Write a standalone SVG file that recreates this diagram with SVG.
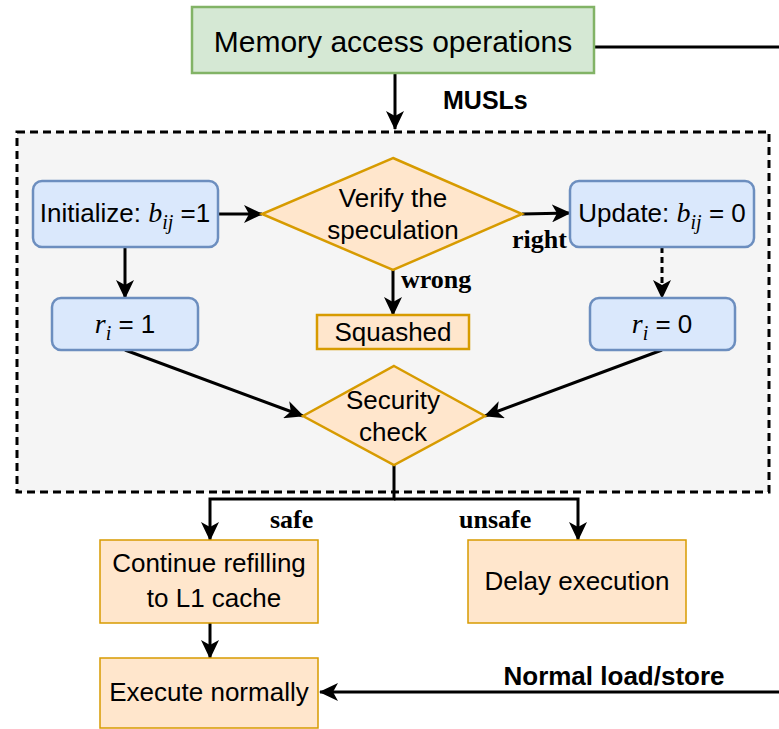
<svg xmlns="http://www.w3.org/2000/svg" width="779" height="729" viewBox="0 0 779 729">
  <style>
    .sans { font-family: "Liberation Sans", Arial, sans-serif; fill: #000; }
    .lbl { font-family: "Liberation Sans", Arial, sans-serif; font-weight: bold; fill: #000; }
    .ser { font-family: "Liberation Serif", "Times New Roman", serif; font-weight: bold; fill: #000; font-size: 26px; }
    .math { font-family: "Liberation Serif", "Times New Roman", serif; font-style: italic; }
    .blue { fill: #dae8fc; stroke: #6c8ebf; stroke-width: 2.5; }
    .orange { fill: #ffe6cc; stroke: #d79b00; stroke-width: 2.5; }
    .orange-thin { fill: #ffe6cc; stroke: #d79b00; stroke-width: 1.5; }
    .green { fill: #d5e8d4; stroke: #82b366; stroke-width: 2.5; }
    .edge { fill: none; stroke: #000; stroke-width: 3; }
  </style>
  <defs>
    <marker id="arrow" markerUnits="userSpaceOnUse" viewBox="0 0 19 18" refX="18" refY="9" markerWidth="19" markerHeight="18" orient="auto">
      <path d="M0,0 L19,9 L0,18 L5,9 Z" fill="#000"/>
    </marker>
  </defs>

  <!-- speculation region -->
  <g id="region">
    <rect x="17" y="132" width="752" height="360" fill="#f5f5f5" stroke="#000" stroke-width="3" stroke-dasharray="8 5"/>
  </g>

  <!-- connectors -->
  <g id="connectors">
    <path class="edge" d="M594,47 H790 V692 H320" marker-end="url(#arrow)"/>
    <path class="edge" d="M395,73 V129" marker-end="url(#arrow)"/>
    <path class="edge" d="M218,214 H262" marker-end="url(#arrow)"/>
    <path class="edge" d="M522,214 L570,213" marker-end="url(#arrow)"/>
    <path class="edge" d="M393,270 V315" marker-end="url(#arrow)"/>
    <path class="edge" d="M125,247 V298" marker-end="url(#arrow)"/>
    <path class="edge" d="M662,247 V298" stroke-dasharray="6 4" marker-end="url(#arrow)"/>
    <path class="edge" d="M125,350 L303,416" marker-end="url(#arrow)"/>
    <path class="edge" d="M662,350 L485,416" marker-end="url(#arrow)"/>
    <path class="edge" d="M394,465 V499 H210 V540" marker-end="url(#arrow)"/>
    <path class="edge" d="M394,499 H578 V540" marker-end="url(#arrow)"/>
    <path class="edge" d="M210,623 V658" marker-end="url(#arrow)"/>
    <text class="lbl" x="443" y="109" font-size="25">MUSLs</text>
    <text class="ser" x="512" y="248">right</text>
    <text class="ser" x="401" y="288">wrong</text>
    <text class="ser" x="270" y="528">safe</text>
    <text class="ser" x="459" y="528">unsafe</text>
    <text class="lbl" x="614" y="685" font-size="26" text-anchor="middle">Normal load/store</text>
  </g>

  <g id="memory-access">
    <rect class="green" x="192" y="7" width="402" height="66"/>
    <text class="sans" x="393" y="52" font-size="30" text-anchor="middle">Memory access operations</text>
  </g>

  <g id="initialize">
    <rect class="blue" x="33" y="181" width="185" height="66" rx="9"/>
    <text class="sans" x="125" y="222" font-size="26" text-anchor="middle">Initialize: <tspan class="math" font-size="28">b</tspan><tspan class="math" font-size="20" dy="7">ij</tspan><tspan dy="-7"> =1</tspan></text>
  </g>

  <g id="verify">
    <polygon class="orange" points="393,158 522,214 393,270 262,214"/>
    <text class="sans" x="393" y="207" font-size="26" text-anchor="middle">Verify the</text>
    <text class="sans" x="393" y="239" font-size="26" text-anchor="middle">speculation</text>
  </g>

  <g id="update">
    <rect class="blue" x="570" y="181" width="184" height="66" rx="9"/>
    <text class="sans" x="662" y="222" font-size="26" text-anchor="middle">Update: <tspan class="math" font-size="28">b</tspan><tspan class="math" font-size="20" dy="7">ij</tspan><tspan dy="-7"> = 0</tspan></text>
  </g>

  <g id="ri-one">
    <rect class="blue" x="52" y="298" width="146" height="52" rx="9"/>
    <text class="sans" x="125" y="333" font-size="26" text-anchor="middle"><tspan class="math" font-size="28">r</tspan><tspan class="math" font-size="20" dy="7">i</tspan><tspan dy="-7"> = 1</tspan></text>
  </g>

  <g id="squashed">
    <rect class="orange" x="317" y="315" width="152" height="34"/>
    <text class="sans" x="393" y="341" font-size="26" text-anchor="middle">Squashed</text>
  </g>

  <g id="ri-zero">
    <rect class="blue" x="590" y="298" width="145" height="52" rx="9"/>
    <text class="sans" x="662" y="333" font-size="26" text-anchor="middle"><tspan class="math" font-size="28">r</tspan><tspan class="math" font-size="20" dy="7">i</tspan><tspan dy="-7"> = 0</tspan></text>
  </g>

  <g id="security-check">
    <polygon class="orange" points="394,366 485,416 394,465 303,416"/>
    <text class="sans" x="393" y="409" font-size="26" text-anchor="middle">Security</text>
    <text class="sans" x="393" y="441" font-size="26" text-anchor="middle">check</text>
  </g>

  <g id="continue-refilling">
    <rect class="orange-thin" x="100" y="540" width="218" height="83"/>
    <text class="sans" x="209" y="572" font-size="26" text-anchor="middle">Continue refilling</text>
    <text class="sans" x="214" y="607" font-size="26" text-anchor="middle">to L1 cache</text>
  </g>

  <g id="delay-execution">
    <rect class="orange-thin" x="468" y="540" width="218" height="83"/>
    <text class="sans" x="577" y="590" font-size="26" text-anchor="middle">Delay execution</text>
  </g>

  <g id="execute-normally">
    <rect class="orange-thin" x="100" y="658" width="218" height="70"/>
    <text class="sans" x="209" y="701" font-size="26" text-anchor="middle">Execute normally</text>
  </g>
</svg>
